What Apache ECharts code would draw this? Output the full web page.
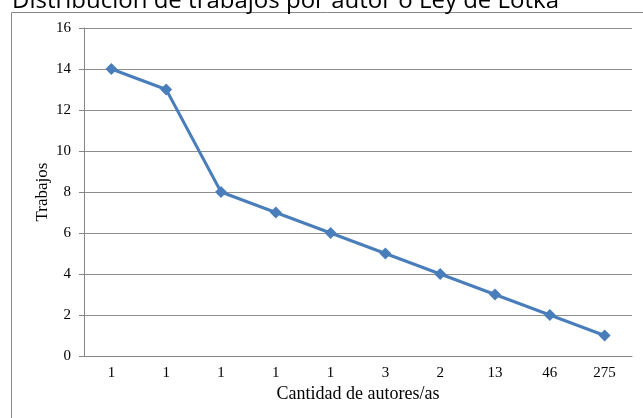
<!DOCTYPE html>
<html>
<head>
<meta charset="utf-8">
<script src="https://cdn.jsdelivr.net/npm/echarts@6/dist/echarts.min.js"></script>
<style>
  html, body { margin: 0; padding: 0; background: #fff; }
  #chart { width: 643px; height: 418px; }
</style>
</head>
<body>
<div id="chart"></div>
<script>
// cantidad de autores/as (etiquetas del eje x)
const authorCounts = ['1', '1', '1', '1', '1', '3', '2', '13', '46', '275'];
// trabajos por autor
const works = [14, 13, 8, 7, 6, 5, 4, 3, 2, 1];
const yTicks = [0, 2, 4, 6, 8, 10, 12, 14, 16];

const chart = echarts.init(document.getElementById('chart'));
const serif = '"Liberation Serif", "Times New Roman", serif';

const option = {
  animation: false,
  title: {
    text: 'Distribución de trabajos por autor o Ley de Lotka',
    left: 7,
    top: -16,
    textStyle: {
      fontFamily: '"Open Sans", "Noto Sans", sans-serif',
      fontSize: 24,
      fontWeight: 'normal',
      color: '#000'
    }
  },
  graphic: [
    {
      type: 'rect',
      shape: { x: 11.5, y: 12.5, width: 660, height: 440 },
      style: { fill: 'none', stroke: '#888', lineWidth: 1 },
      silent: true,
      z: -1
    }
  ],
  grid: { left: 84, right: 11, top: 28, bottom: 62 },
  xAxis: {
    type: 'category',
    data: authorCounts,
    boundaryGap: true,
    name: 'Cantidad de autores/as',
    nameLocation: 'middle',
    nameGap: 29,
    nameMoveOverlap: false,
    nameTextStyle: { fontFamily: serif, fontSize: 18, color: '#000' },
    axisLine: { lineStyle: { color: '#868686', width: 1 } },
    axisTick: { show: false },
    axisLabel: { fontFamily: serif, fontSize: 15, color: '#000', margin: 10, interval: 0 }
  },
  yAxis: {
    type: 'value',
    min: yTicks[0],
    max: yTicks[yTicks.length - 1],
    interval: 2,
    name: 'Trabajos',
    nameLocation: 'middle',
    nameGap: 33,
    nameMoveOverlap: false,
    nameTextStyle: { fontFamily: serif, fontSize: 17, color: '#000' },
    axisLine: { show: true, lineStyle: { color: '#868686', width: 1 } },
    axisTick: { show: true, length: 5, lineStyle: { color: '#868686' } },
    axisLabel: { fontFamily: serif, fontSize: 15, color: '#000', margin: 13 },
    splitLine: { show: true, lineStyle: { color: '#8c8c8c', width: 1 } }
  },
  series: [
    {
      name: 'Trabajos',
      type: 'line',
      data: works,
      symbol: 'diamond',
      symbolSize: 12,
      lineStyle: { color: '#4a7ebb', width: 3 },
      itemStyle: { color: '#4a7ebb' }
    }
  ]
};

chart.setOption(option);
</script>
</body>
</html>
